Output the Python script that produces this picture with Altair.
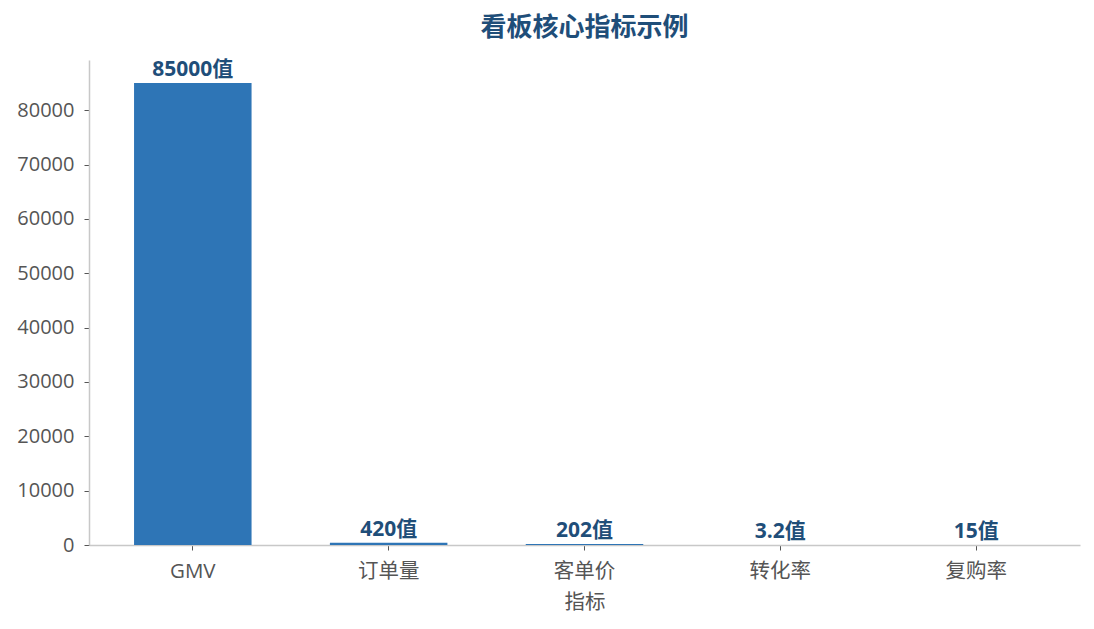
import altair as alt
import pandas as pd

categories = ["GMV", "订单量", "客单价", "转化率", "复购率"]
values = [85000, 420, 202, 3.2, 15]
labels = ["85000值", "420值", "202值", "3.2值", "15值"]

df = pd.DataFrame({"指标": categories, "数值": values, "标签": labels})

FONT = "Open Sans, Noto Sans CJK SC"

x = alt.X("指标:N", sort=categories,
          scale=alt.Scale(paddingInner=0.4, paddingOuter=0.23),
          axis=alt.Axis(labelAngle=0, title="指标", labelFontSize=20.5, titleFontSize=20.5,
                        labelColor="#555555", titleColor="#555555", titleFontWeight="normal",
                        domainColor="#c8c8c8", domainWidth=1.5, tickColor="#555555", tickSize=5,
                        labelPadding=11, titlePadding=11, labelFont=FONT, titleFont=FONT))
y = alt.Y("数值:Q", scale=alt.Scale(domain=[0, 89250], nice=False),
          axis=alt.Axis(title=None, grid=False,
                        values=[0, 10000, 20000, 30000, 40000, 50000, 60000, 70000, 80000],
                        labelFontSize=20, labelColor="#555555", labelFont=FONT,
                        domainColor="#c8c8c8", domainWidth=1.5, tickColor="#555555", tickSize=5,
                        labelPadding=10, format="d"))

bars = alt.Chart(df).mark_bar(color="#2e75b6").encode(x=x, y=y)
text = alt.Chart(df).mark_text(baseline="bottom", dy=-3, fontSize=21, fontWeight="bold",
                               color="#1f4e79", font=FONT).encode(x=x, y=y, text="标签:N")

chart = (bars + text).properties(
    width=991, height=485,
    autosize=alt.AutoSizeParams(type="none"),
    padding={"left": 81, "top": 52, "right": 6, "bottom": 70},
    title=alt.TitleParams("看板核心指标示例", fontSize=26, fontWeight="bold", color="#1f4e79",
                          font=FONT, anchor="middle", offset=18),
).configure(background="white").configure_view(stroke=None)

chart.save("out.html", embed_options={"renderer": "svg", "actions": False})
